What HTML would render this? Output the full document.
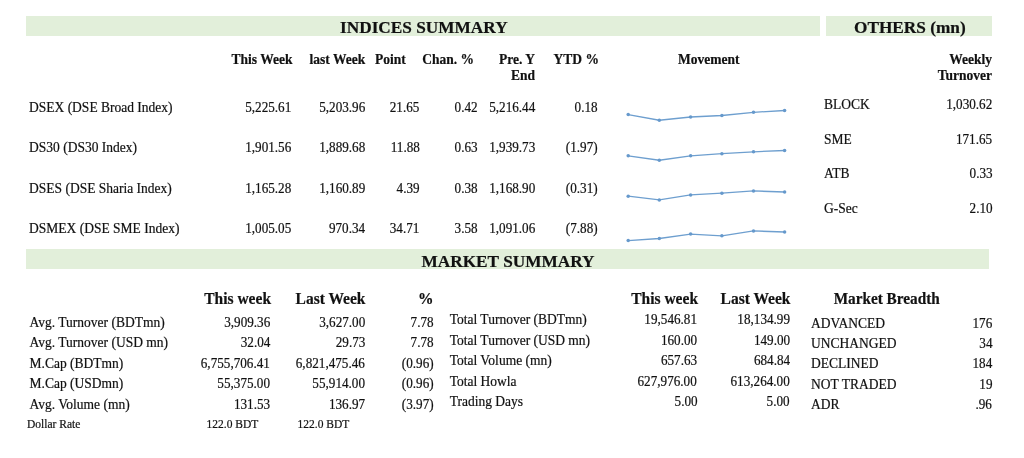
<!DOCTYPE html>
<html><head><meta charset="utf-8"><style>
html,body{margin:0;padding:0;background:#fff;}
body{width:1024px;height:458px;position:relative;overflow:hidden;font-family:"Liberation Serif",serif;color:#111;}
i{position:absolute;background:#E2EFDA;display:block}
div{position:absolute;white-space:nowrap;line-height:1;-webkit-text-stroke:0.2px #111;}
</style></head><body>
<i style="left:26px;top:16px;width:794px;height:20px"></i><i style="left:826px;top:16px;width:166px;height:20px"></i><i style="left:26px;top:249px;width:963px;height:20px"></i><section style="position:absolute;left:0;top:0;width:1024px;height:458px;will-change:transform">
<svg width="1024" height="458" style="position:absolute;left:0;top:0"><polyline points="628.2,114.6 659.3,120.2 690.6,117 721.9,115.5 753.5,112.3 784.6,110.5" fill="none" stroke="#6E9FCF" stroke-width="1.35"/><circle cx="628.2" cy="114.6" r="1.75" fill="#6699CC"/><circle cx="659.3" cy="120.2" r="1.75" fill="#6699CC"/><circle cx="690.6" cy="117" r="1.75" fill="#6699CC"/><circle cx="721.9" cy="115.5" r="1.75" fill="#6699CC"/><circle cx="753.5" cy="112.3" r="1.75" fill="#6699CC"/><circle cx="784.6" cy="110.5" r="1.75" fill="#6699CC"/><polyline points="628.2,155.8 659.3,160.2 690.6,155.8 721.9,153.7 753.5,151.8 784.6,150.5" fill="none" stroke="#6E9FCF" stroke-width="1.35"/><circle cx="628.2" cy="155.8" r="1.75" fill="#6699CC"/><circle cx="659.3" cy="160.2" r="1.75" fill="#6699CC"/><circle cx="690.6" cy="155.8" r="1.75" fill="#6699CC"/><circle cx="721.9" cy="153.7" r="1.75" fill="#6699CC"/><circle cx="753.5" cy="151.8" r="1.75" fill="#6699CC"/><circle cx="784.6" cy="150.5" r="1.75" fill="#6699CC"/><polyline points="628.2,196.2 659.3,199.9 690.6,194.9 721.9,193.2 753.5,190.9 784.6,192" fill="none" stroke="#6E9FCF" stroke-width="1.35"/><circle cx="628.2" cy="196.2" r="1.75" fill="#6699CC"/><circle cx="659.3" cy="199.9" r="1.75" fill="#6699CC"/><circle cx="690.6" cy="194.9" r="1.75" fill="#6699CC"/><circle cx="721.9" cy="193.2" r="1.75" fill="#6699CC"/><circle cx="753.5" cy="190.9" r="1.75" fill="#6699CC"/><circle cx="784.6" cy="192" r="1.75" fill="#6699CC"/><polyline points="628.2,240.6 659.3,238.5 690.6,234.1 721.9,235.8 753.5,230.9 784.6,232" fill="none" stroke="#6E9FCF" stroke-width="1.35"/><circle cx="628.2" cy="240.6" r="1.75" fill="#6699CC"/><circle cx="659.3" cy="238.5" r="1.75" fill="#6699CC"/><circle cx="690.6" cy="234.1" r="1.75" fill="#6699CC"/><circle cx="721.9" cy="235.8" r="1.75" fill="#6699CC"/><circle cx="753.5" cy="230.9" r="1.75" fill="#6699CC"/><circle cx="784.6" cy="232" r="1.75" fill="#6699CC"/></svg>
<div style="top:18.85px;left:340px;font-size:17.25px;font-weight:700;">INDICES SUMMARY</div>
<div style="top:18.85px;left:854px;font-size:17.25px;font-weight:700;">OTHERS (mn)</div>
<div style="top:253.05px;left:421.5px;font-size:17.25px;font-weight:700;">MARKET SUMMARY</div>
<div style="top:53.49px;right:731.50px;font-size:13.5px;font-weight:700;transform:scale(1,1.05);transform-origin:100% 11.31px;">This Week</div>
<div style="top:53.49px;right:658.80px;font-size:13.5px;font-weight:700;transform:scale(1,1.05);transform-origin:100% 11.31px;">last Week</div>
<div style="top:53.49px;right:618.20px;font-size:13.5px;font-weight:700;transform:scale(1,1.05);transform-origin:100% 11.31px;">Point</div>
<div style="top:53.49px;right:550.00px;font-size:13.5px;font-weight:700;transform:scale(1,1.05);transform-origin:100% 11.31px;">Chan. %</div>
<div style="top:53.49px;right:489.00px;font-size:13.5px;font-weight:700;transform:scale(1,1.05);transform-origin:100% 11.31px;">Pre. Y</div>
<div style="top:68.69px;right:489.00px;font-size:13.5px;font-weight:700;transform:scale(1,1.05);transform-origin:100% 11.31px;">End</div>
<div style="top:53.49px;right:425.00px;font-size:13.5px;font-weight:700;transform:scale(1,1.05);transform-origin:100% 11.31px;">YTD %</div>
<div style="top:53.49px;left:678px;font-size:13.5px;font-weight:700;transform:scale(1,1.05);transform-origin:0 11.31px;">Movement</div>
<div style="top:53.49px;right:32.00px;font-size:13.5px;font-weight:700;transform:scale(1,1.05);transform-origin:100% 11.31px;">Weekly</div>
<div style="top:68.89px;right:32.00px;font-size:13.5px;font-weight:700;transform:scale(1,1.05);transform-origin:100% 11.31px;">Turnover</div>
<div style="top:101.19px;left:29px;font-size:13.5px;transform:scale(1,1.05);transform-origin:0 11.31px;">DSEX (DSE Broad Index)</div>
<div style="top:101.19px;right:733.00px;font-size:13.5px;transform:scale(0.975,1.05);transform-origin:100% 11.31px;">5,225.61</div>
<div style="top:101.19px;right:659.10px;font-size:13.5px;transform:scale(0.975,1.05);transform-origin:100% 11.31px;">5,203.96</div>
<div style="top:101.19px;right:604.60px;font-size:13.5px;transform:scale(0.975,1.05);transform-origin:100% 11.31px;">21.65</div>
<div style="top:101.19px;right:546.70px;font-size:13.5px;transform:scale(0.975,1.05);transform-origin:100% 11.31px;">0.42</div>
<div style="top:101.19px;right:489.10px;font-size:13.5px;transform:scale(0.975,1.05);transform-origin:100% 11.31px;">5,216.44</div>
<div style="top:101.19px;right:426.00px;font-size:13.5px;transform:scale(0.975,1.05);transform-origin:100% 11.31px;">0.18</div>
<div style="top:141.44px;left:29px;font-size:13.5px;transform:scale(1,1.05);transform-origin:0 11.31px;">DS30 (DS30 Index)</div>
<div style="top:141.44px;right:733.00px;font-size:13.5px;transform:scale(0.975,1.05);transform-origin:100% 11.31px;">1,901.56</div>
<div style="top:141.44px;right:659.10px;font-size:13.5px;transform:scale(0.975,1.05);transform-origin:100% 11.31px;">1,889.68</div>
<div style="top:141.44px;right:604.60px;font-size:13.5px;transform:scale(0.975,1.05);transform-origin:100% 11.31px;">11.88</div>
<div style="top:141.44px;right:546.70px;font-size:13.5px;transform:scale(0.975,1.05);transform-origin:100% 11.31px;">0.63</div>
<div style="top:141.44px;right:489.10px;font-size:13.5px;transform:scale(0.975,1.05);transform-origin:100% 11.31px;">1,939.73</div>
<div style="top:141.44px;right:426.00px;font-size:13.5px;transform:scale(0.975,1.05);transform-origin:100% 11.31px;">(1.97)</div>
<div style="top:181.69px;left:29px;font-size:13.5px;transform:scale(1,1.05);transform-origin:0 11.31px;">DSES (DSE Sharia Index)</div>
<div style="top:181.69px;right:733.00px;font-size:13.5px;transform:scale(0.975,1.05);transform-origin:100% 11.31px;">1,165.28</div>
<div style="top:181.69px;right:659.10px;font-size:13.5px;transform:scale(0.975,1.05);transform-origin:100% 11.31px;">1,160.89</div>
<div style="top:181.69px;right:604.60px;font-size:13.5px;transform:scale(0.975,1.05);transform-origin:100% 11.31px;">4.39</div>
<div style="top:181.69px;right:546.70px;font-size:13.5px;transform:scale(0.975,1.05);transform-origin:100% 11.31px;">0.38</div>
<div style="top:181.69px;right:489.10px;font-size:13.5px;transform:scale(0.975,1.05);transform-origin:100% 11.31px;">1,168.90</div>
<div style="top:181.69px;right:426.00px;font-size:13.5px;transform:scale(0.975,1.05);transform-origin:100% 11.31px;">(0.31)</div>
<div style="top:221.94px;left:29px;font-size:13.5px;transform:scale(1,1.05);transform-origin:0 11.31px;">DSMEX (DSE SME Index)</div>
<div style="top:221.94px;right:733.00px;font-size:13.5px;transform:scale(0.975,1.05);transform-origin:100% 11.31px;">1,005.05</div>
<div style="top:221.94px;right:659.10px;font-size:13.5px;transform:scale(0.975,1.05);transform-origin:100% 11.31px;">970.34</div>
<div style="top:221.94px;right:604.60px;font-size:13.5px;transform:scale(0.975,1.05);transform-origin:100% 11.31px;">34.71</div>
<div style="top:221.94px;right:546.70px;font-size:13.5px;transform:scale(0.975,1.05);transform-origin:100% 11.31px;">3.58</div>
<div style="top:221.94px;right:489.10px;font-size:13.5px;transform:scale(0.975,1.05);transform-origin:100% 11.31px;">1,091.06</div>
<div style="top:221.94px;right:426.00px;font-size:13.5px;transform:scale(0.975,1.05);transform-origin:100% 11.31px;">(7.88)</div>
<div style="top:98.29px;left:824px;font-size:13.5px;transform:scale(1,1.05);transform-origin:0 11.31px;">BLOCK</div>
<div style="top:98.29px;right:31.80px;font-size:13.5px;transform:scale(0.975,1.05);transform-origin:100% 11.31px;">1,030.62</div>
<div style="top:132.79px;left:824px;font-size:13.5px;transform:scale(1,1.05);transform-origin:0 11.31px;">SME</div>
<div style="top:132.79px;right:31.80px;font-size:13.5px;transform:scale(0.975,1.05);transform-origin:100% 11.31px;">171.65</div>
<div style="top:167.29px;left:824px;font-size:13.5px;transform:scale(1,1.05);transform-origin:0 11.31px;">ATB</div>
<div style="top:167.29px;right:31.80px;font-size:13.5px;transform:scale(0.975,1.05);transform-origin:100% 11.31px;">0.33</div>
<div style="top:201.79px;left:824px;font-size:13.5px;transform:scale(1,1.05);transform-origin:0 11.31px;">G-Sec</div>
<div style="top:201.79px;right:31.80px;font-size:13.5px;transform:scale(0.975,1.05);transform-origin:100% 11.31px;">2.10</div>
<div style="top:290.72px;right:753.00px;font-size:15.5px;font-weight:700;transform:scale(1,1.05);transform-origin:100% 12.98px;">This week</div>
<div style="top:290.72px;right:658.50px;font-size:15.5px;font-weight:700;transform:scale(1,1.05);transform-origin:100% 12.98px;">Last Week</div>
<div style="top:290.72px;right:590.50px;font-size:15.5px;font-weight:700;transform:scale(1,1.05);transform-origin:100% 12.98px;">%</div>
<div style="top:290.72px;right:326.00px;font-size:15.5px;font-weight:700;transform:scale(1,1.05);transform-origin:100% 12.98px;">This week</div>
<div style="top:290.72px;right:233.50px;font-size:15.5px;font-weight:700;transform:scale(1,1.05);transform-origin:100% 12.98px;">Last Week</div>
<div style="top:290.93px;left:833.7px;font-size:15.25px;font-weight:700;transform:scale(1,1.05);transform-origin:0 12.77px;">Market Breadth</div>
<div style="top:315.89px;left:29.5px;font-size:13.5px;transform:scale(1,1.05);transform-origin:0 11.31px;">Avg. Turnover (BDTmn)</div>
<div style="top:315.89px;right:753.90px;font-size:13.5px;transform:scale(0.975,1.05);transform-origin:100% 11.31px;">3,909.36</div>
<div style="top:315.89px;right:658.90px;font-size:13.5px;transform:scale(0.975,1.05);transform-origin:100% 11.31px;">3,627.00</div>
<div style="top:315.89px;right:590.30px;font-size:13.5px;transform:scale(0.975,1.05);transform-origin:100% 11.31px;">7.78</div>
<div style="top:336.39px;left:29.5px;font-size:13.5px;transform:scale(1,1.05);transform-origin:0 11.31px;">Avg. Turnover (USD mn)</div>
<div style="top:336.39px;right:753.90px;font-size:13.5px;transform:scale(0.975,1.05);transform-origin:100% 11.31px;">32.04</div>
<div style="top:336.39px;right:658.90px;font-size:13.5px;transform:scale(0.975,1.05);transform-origin:100% 11.31px;">29.73</div>
<div style="top:336.39px;right:590.30px;font-size:13.5px;transform:scale(0.975,1.05);transform-origin:100% 11.31px;">7.78</div>
<div style="top:356.89px;left:29.5px;font-size:13.5px;transform:scale(1,1.05);transform-origin:0 11.31px;">M.Cap (BDTmn)</div>
<div style="top:356.89px;right:753.90px;font-size:13.5px;transform:scale(0.975,1.05);transform-origin:100% 11.31px;">6,755,706.41</div>
<div style="top:356.89px;right:658.90px;font-size:13.5px;transform:scale(0.975,1.05);transform-origin:100% 11.31px;">6,821,475.46</div>
<div style="top:356.89px;right:590.30px;font-size:13.5px;transform:scale(0.975,1.05);transform-origin:100% 11.31px;">(0.96)</div>
<div style="top:377.39px;left:29.5px;font-size:13.5px;transform:scale(1,1.05);transform-origin:0 11.31px;">M.Cap (USDmn)</div>
<div style="top:377.39px;right:753.90px;font-size:13.5px;transform:scale(0.975,1.05);transform-origin:100% 11.31px;">55,375.00</div>
<div style="top:377.39px;right:658.90px;font-size:13.5px;transform:scale(0.975,1.05);transform-origin:100% 11.31px;">55,914.00</div>
<div style="top:377.39px;right:590.30px;font-size:13.5px;transform:scale(0.975,1.05);transform-origin:100% 11.31px;">(0.96)</div>
<div style="top:397.89px;left:29.5px;font-size:13.5px;transform:scale(1,1.05);transform-origin:0 11.31px;">Avg. Volume (mn)</div>
<div style="top:397.89px;right:753.90px;font-size:13.5px;transform:scale(0.975,1.05);transform-origin:100% 11.31px;">131.53</div>
<div style="top:397.89px;right:658.90px;font-size:13.5px;transform:scale(0.975,1.05);transform-origin:100% 11.31px;">136.97</div>
<div style="top:397.89px;right:590.30px;font-size:13.5px;transform:scale(0.975,1.05);transform-origin:100% 11.31px;">(3.97)</div>
<div style="top:313.29px;left:449.7px;font-size:13.5px;transform:scale(1,1.05);transform-origin:0 11.31px;">Total Turnover (BDTmn)</div>
<div style="top:313.29px;right:326.80px;font-size:13.5px;transform:scale(0.975,1.05);transform-origin:100% 11.31px;">19,546.81</div>
<div style="top:313.29px;right:234.30px;font-size:13.5px;transform:scale(0.975,1.05);transform-origin:100% 11.31px;">18,134.99</div>
<div style="top:333.79px;left:449.7px;font-size:13.5px;transform:scale(1,1.05);transform-origin:0 11.31px;">Total Turnover (USD mn)</div>
<div style="top:333.79px;right:326.80px;font-size:13.5px;transform:scale(0.975,1.05);transform-origin:100% 11.31px;">160.00</div>
<div style="top:333.79px;right:234.30px;font-size:13.5px;transform:scale(0.975,1.05);transform-origin:100% 11.31px;">149.00</div>
<div style="top:354.29px;left:449.7px;font-size:13.5px;transform:scale(1,1.05);transform-origin:0 11.31px;">Total Volume (mn)</div>
<div style="top:354.29px;right:326.80px;font-size:13.5px;transform:scale(0.975,1.05);transform-origin:100% 11.31px;">657.63</div>
<div style="top:354.29px;right:234.30px;font-size:13.5px;transform:scale(0.975,1.05);transform-origin:100% 11.31px;">684.84</div>
<div style="top:374.79px;left:449.7px;font-size:13.5px;transform:scale(1,1.05);transform-origin:0 11.31px;">Total Howla</div>
<div style="top:374.79px;right:326.80px;font-size:13.5px;transform:scale(0.975,1.05);transform-origin:100% 11.31px;">627,976.00</div>
<div style="top:374.79px;right:234.30px;font-size:13.5px;transform:scale(0.975,1.05);transform-origin:100% 11.31px;">613,264.00</div>
<div style="top:395.29px;left:449.7px;font-size:13.5px;transform:scale(1,1.05);transform-origin:0 11.31px;">Trading Days</div>
<div style="top:395.29px;right:326.80px;font-size:13.5px;transform:scale(0.975,1.05);transform-origin:100% 11.31px;">5.00</div>
<div style="top:395.29px;right:234.30px;font-size:13.5px;transform:scale(0.975,1.05);transform-origin:100% 11.31px;">5.00</div>
<div style="top:316.59px;left:811px;font-size:13.5px;transform:scale(1,1.05);transform-origin:0 11.31px;">ADVANCED</div>
<div style="top:316.59px;right:31.70px;font-size:13.5px;transform:scale(0.975,1.05);transform-origin:100% 11.31px;">176</div>
<div style="top:337.04px;left:811px;font-size:13.5px;transform:scale(1,1.05);transform-origin:0 11.31px;">UNCHANGED</div>
<div style="top:337.04px;right:31.70px;font-size:13.5px;transform:scale(0.975,1.05);transform-origin:100% 11.31px;">34</div>
<div style="top:357.49px;left:811px;font-size:13.5px;transform:scale(1,1.05);transform-origin:0 11.31px;">DECLINED</div>
<div style="top:357.49px;right:31.70px;font-size:13.5px;transform:scale(0.975,1.05);transform-origin:100% 11.31px;">184</div>
<div style="top:377.94px;left:811px;font-size:13.5px;transform:scale(1,1.05);transform-origin:0 11.31px;">NOT TRADED</div>
<div style="top:377.94px;right:31.70px;font-size:13.5px;transform:scale(0.975,1.05);transform-origin:100% 11.31px;">19</div>
<div style="top:398.39px;left:811px;font-size:13.5px;transform:scale(1,1.05);transform-origin:0 11.31px;">ADR</div>
<div style="top:398.39px;right:31.70px;font-size:13.5px;transform:scale(0.975,1.05);transform-origin:100% 11.31px;">.96</div>
<div style="top:419.07px;left:27px;font-size:11.5px;transform:scale(1,1.05);transform-origin:0 9.63px;">Dollar Rate</div>
<div style="top:419.07px;left:206.5px;font-size:11.5px;transform:scale(1,1.05);transform-origin:0 9.63px;">122.0 BDT</div>
<div style="top:419.07px;left:297.5px;font-size:11.5px;transform:scale(1,1.05);transform-origin:0 9.63px;">122.0 BDT</div>
</section></body></html>
